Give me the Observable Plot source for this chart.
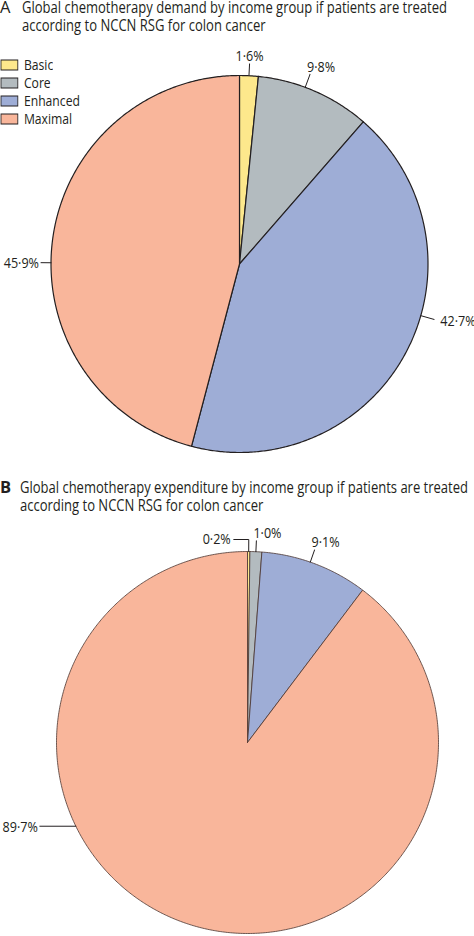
<!DOCTYPE html>
<html>
<head>
<meta charset="utf-8">
<script src="https://cdn.jsdelivr.net/npm/d3@7"></script>
<script src="https://cdn.jsdelivr.net/npm/@observablehq/plot@0.6"></script>
<style>
  html, body { margin: 0; padding: 0; background: #fff; }
  body { position: relative; width: 474px; height: 936px; overflow: hidden;
         font-family: "Open Sans", sans-serif; color: #231f20; }
  .abs { position: absolute; white-space: nowrap; }
  .ttl { font-size: 16px; line-height: 18px; transform-origin: 0 0; }
  #legendA .lg-swatches, #legendA .lg-swatch, #legendA span {
    font-family: "Open Sans", sans-serif; font-size: 14.5px; line-height: 17px; color: #231f20; margin: 0;
  }
</style>
</head>
<body>
<script>
// ---------- data ----------
const groups = ["Basic", "Core", "Enhanced", "Maximal"];
const colors = ["#fde88c", "#b3bbbf", "#9eadd6", "#f9b69b"];

const demandShare = [1.6, 9.8, 42.7, 45.9];
const demandLabels = ["1·6%", "9·8%", "42·7%", "45·9%"];

const expenditureShare = [0.2, 1.0, 9.1, 89.7];
const expenditureLabels = ["0·2%", "1·0%", "9·1%", "89·7%"];

const titleA = ["Global chemotherapy demand by income group if patients are treated",
                "according to NCCN RSG for colon cancer"];
const titleB = ["Global chemotherapy expenditure by income group if patients are treated",
                "according to NCCN RSG for colon cancer"];

// ---------- layout ----------
const TEXT_SCALE = 0.84;
const layoutA = {
  top: 40, height: 430, cx: 239, cy: 223.5, r: 188.5, stroke: "#231f20", strokeWidth: 1.2,
  labels: [
    {off: 0, radial: 12, horiz: 0, anchor: "middle", line: "bottom", dx: 0, dy: -3},
    {off: -3, radial: 14, horiz: 0, anchor: "start", line: "bottom", dx: -3, dy: -2},
    {off: -12, radial: 14, horiz: 0, anchor: "start", line: "middle", dx: 6, dy: 2},
    {off: -7, radial: 10, horiz: 0, anchor: "end", line: "middle", dx: -2, dy: 1}
  ]
};
const layoutB = {
  top: 520, height: 416, cx: 247, cy: 222, r: 191, stroke: "#4a3530", strokeWidth: 0.8,
  labels: [
    {off: 0, radial: 12, horiz: -15, anchor: "end", line: "middle", dx: -3, dy: 0},
    {off: 0, radial: 11, horiz: 0, anchor: "start", line: "bottom", dx: -3, dy: -3},
    {off: -1.5, radial: 13, horiz: 0, anchor: "start", line: "bottom", dx: -3, dy: -3},
    {angle: 244, radial: 0, horiz: -36, anchor: "end", line: "middle", dx: -2, dy: 1}
  ]
};

// ---------- titles ----------
function addTitle(letter, lines, baseline, textLeft, line1Width, bold) {
  const L = document.createElement("div");
  L.className = "abs";
  L.textContent = letter;
  L.style.cssText = `left:0px;top:${baseline - 12.4}px;font-size:16.5px;line-height:12px;font-weight:${bold ? 700 : 400};`;
  document.body.appendChild(L);
  const d = document.createElement("div");
  d.className = "abs ttl";
  d.style.left = textLeft + "px";
  d.style.top = (baseline - 15.2) + "px";
  const spans = lines.map((t, i) => {
    const s = document.createElement("span");
    s.textContent = t;
    d.appendChild(s);
    if (i < lines.length - 1) d.appendChild(document.createElement("br"));
    return s;
  });
  document.body.appendChild(d);
  const w = spans[0].getBoundingClientRect().width;
  d.style.transform = `scaleX(${line1Width / w})`;
}
addTitle("A", titleA, 13.2, 22, 425, false);
addTitle("B", titleB, 493.5, 20, 448, true);

// ---------- pies ----------
function drawPie(values, labels, L) {
  const data = groups.map((g, i) => ({group: g, value: values[i], label: labels[i]}));
  const arcs = d3.pie().sort(null).value(d => d.value)(data);
  const step = Math.PI / 360;
  const poly = arcs.flatMap(a => {
    const n = Math.max(2, Math.ceil((a.endAngle - a.startAngle) / step));
    const pts = [{x: 0, y: 0}];
    for (let i = 0; i <= n; i++) {
      const t = a.startAngle + (a.endAngle - a.startAngle) * i / n;
      pts.push({x: Math.sin(t), y: Math.cos(t)});
    }
    pts.push({x: 0, y: 0});
    return pts.map(p => ({...p, group: a.data.group}));
  });
  const ends = [];
  const leaders = arcs.flatMap((a, i) => {
    const s = L.labels[i];
    const mid = (a.startAngle + a.endAngle) / 2;
    const th = s.angle != null ? s.angle * Math.PI / 180 : mid + (s.off || 0) * Math.PI / 180;
    const p0 = {x: Math.sin(th), y: Math.cos(th)};
    const k = 1 + s.radial / L.r;
    const p1 = {x: p0.x * k, y: p0.y * k};
    const p2 = {x: p1.x + s.horiz / L.r, y: p1.y};
    ends.push({...p2, text: a.data.label, s});
    return [p0, p1, p2].map(p => ({...p, id: i}));
  });
  const textMarks = ends.map(e => Plot.text([e], {
    x: "x", y: "y", text: "text", textAnchor: e.s.anchor, lineAnchor: e.s.line,
    dx: e.s.dx, dy: e.s.dy, fontSize: 15, fill: "#231f20"
  }));
  const svg = Plot.plot({
    width: 474, height: L.height,
    marginTop: 0, marginBottom: 0, marginLeft: 0, marginRight: 0,
    x: {domain: [-1, 1], range: [L.cx - L.r, L.cx + L.r], axis: null},
    y: {domain: [-1, 1], range: [L.cy + L.r, L.cy - L.r], axis: null},
    color: {domain: groups, range: colors},
    style: {fontFamily: "Open Sans, sans-serif", background: "transparent", overflow: "visible"},
    marks: [
      Plot.line(poly, {x: "x", y: "y", z: "group", fill: "group", stroke: L.stroke,
                       strokeWidth: L.strokeWidth, strokeLinejoin: "round", curve: "linear"}),
      Plot.line(leaders, {x: "x", y: "y", z: "id", stroke: "#231f20", strokeWidth: 1, curve: "linear"}),
      ...textMarks
    ]
  });
  svg.querySelectorAll("text").forEach(t => {
    const tr = t.getAttribute("transform");
    if (tr) t.setAttribute("transform", tr + ` scale(${TEXT_SCALE},1)`);
    else {
      const x = +t.getAttribute("x") || 0, y = +t.getAttribute("y") || 0;
      t.removeAttribute("x"); t.removeAttribute("y");
      t.setAttribute("transform", `translate(${x},${y}) scale(${TEXT_SCALE},1)`);
    }
  });
  const wrap = document.createElement("div");
  wrap.className = "abs";
  wrap.style.left = "0px";
  wrap.style.top = L.top + "px";
  wrap.appendChild(svg);
  document.body.appendChild(wrap);
}
drawPie(demandShare, demandLabels, layoutA);
drawPie(expenditureShare, expenditureLabels, layoutB);

// ---------- legend ----------
const leg = Plot.legend({
  color: {type: "ordinal", domain: groups, range: colors},
  legend: "swatches", columns: 1, swatchWidth: 20, swatchHeight: 10, className: "lg"
});
leg.querySelectorAll("svg rect").forEach(r => {
  r.setAttribute("stroke", "#231f20"); r.setAttribute("stroke-width", "1");
});
const lw = document.createElement("div");
lw.id = "legendA";
lw.className = "abs";
lw.style.cssText = `left:1px;top:56px;transform:scaleX(${TEXT_SCALE});transform-origin:0 0;`;
lw.appendChild(leg);
document.body.appendChild(lw);
</script>
</body>
</html>
